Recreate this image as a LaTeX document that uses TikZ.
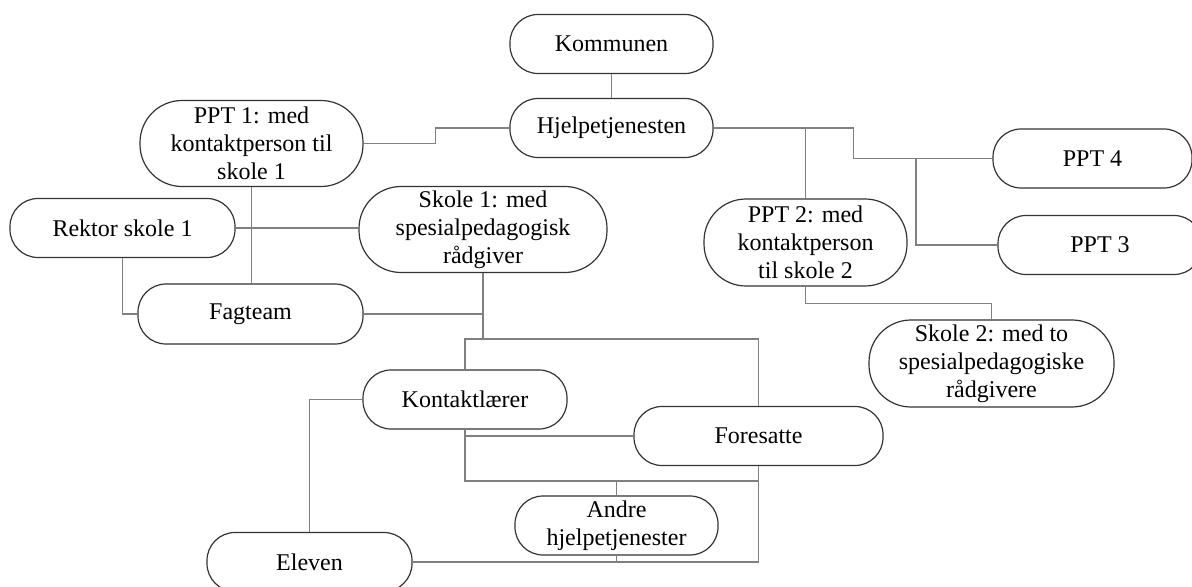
\documentclass[tikz,border=0pt]{standalone}
\usepackage{fontspec}
\setmainfont{Liberation Serif}
\usepackage{tikz}

\begin{document}
\begin{tikzpicture}[
		x=0.5pt,
		y=-0.5pt,
		box/.style={
			draw=black!80,
			line width=0.6pt,
			rounded corners=14pt,
			align=center,
			font=\fontsize{12}{14}\selectfont,
			minimum height=29.5pt,
			inner sep=1pt
		},
		tallbox/.style={
			box,
			rounded corners=21pt,
			minimum height=43pt
		},
		line/.style={draw=black!50,line width=0.7pt}
		]
		
		\useasboundingbox (0,0) rectangle (1192,587);
		
		\node[box,minimum width=101.5pt] (kom) at (611.5,44) {Kommunen};
		\node[box,minimum width=101.5pt] (hje) at (611.5,128) {Hjelpetjenesten};
		
		\node[tallbox,minimum width=111.5pt] (ppt1) at (251.5,143.5)
		{PPT 1: med\\ kontaktperson til\\ skole 1};
		\node[box,minimum width=112.5pt] (rektor) at (122.5,228) {Rektor skole 1};
		\node[tallbox,minimum width=124pt] (skole1) at (483,229.5)
		{Skole 1: med\\ spesialpedagogisk\\ rådgiver};
		\node[box,minimum width=112.5pt,minimum height=30pt] (fagteam) at (250.5,314) {Fagteam};
		
		\node[tallbox,minimum width=101.5pt,minimum height=43.5pt] (ppt2) at (805.5,242.5)
		{PPT 2: med\\ kontaktperson\\ til skole 2};
		\node[box,minimum width=99.5pt] (ppt4) at (1092.5,158.5) {PPT 4};
		\node[box,minimum width=102pt] (ppt3) at (1100,245) {PPT 3};
		\node[tallbox,minimum width=122.5pt,minimum height=43.5pt] (skole2) at (991.5,363.5)
		{Skole 2: med to\\ spesialpedagogiske\\ rådgivere};
		
		\node[box,minimum width=102pt] (kontakt) at (465,399.5) {Kontaktlærer};
		\node[box,minimum width=124.5pt] (foresatte) at (758.5,436) {Foresatte};
		\node[box,minimum width=101.5pt] (andre) at (616.5,525.5) {Andre\\ hjelpetjenester};
		\node[box,minimum width=102.5pt] (eleven) at (309.5,562) {Eleven};
		
		\coordinate (j4) at (916,158.5);
		\coordinate (j1) at (483,339);
		\coordinate (j2) at (616.5,481);
		
		\draw[line] (kom) -- (hje);
		\draw[line] (hje.west) -- ++(-74,0) |- (ppt1.east);
		\draw[line] (hje.east) -- ++(140,0) |- (ppt4.west);
		\draw[line] (ppt2.north) -- (ppt2.north |- hje.east);
		\draw[line] (ppt3.west) -| (j4);
		\draw[line] (ppt2.south) -- ++(0,17) -| (skole2.north);
		
		\draw[line] (ppt1.south) -- (ppt1.south |- fagteam.north);
		\draw[line] (rektor.east) -- (rektor.east -| skole1.west);
		\draw[line] (rektor.south) |- (fagteam.west);
		\draw[line] (skole1.south) -- (j1);
		\draw[line] (fagteam.east) -- (fagteam.east -| skole1.south);
		\draw[line] (kontakt.north) |- (j1) -| (foresatte.north);
		
		\draw[line] (kontakt.west) -| (eleven.north);
		\draw[line] (kontakt.south) |- (j2) -| (foresatte.south);
		\draw[line] (kontakt.south |- foresatte.west) -- (foresatte.west);
		\draw[line] (andre.north) -- (j2);
		\draw[line] (eleven.east) -| (foresatte.south);
		\draw[line] (andre.south) -- (andre.south |- eleven.east);
		
	\end{tikzpicture}
\end{document}
